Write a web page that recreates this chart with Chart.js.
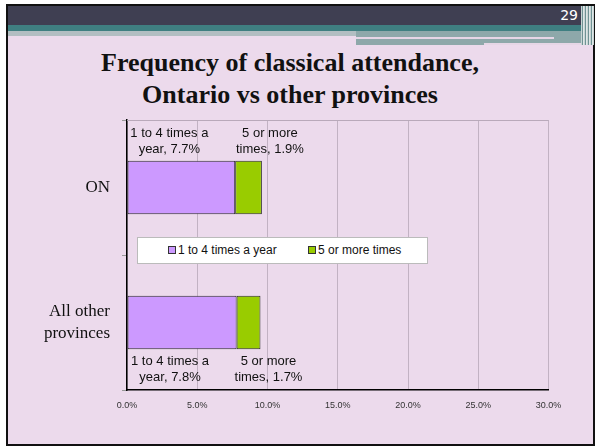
<!DOCTYPE html>
<html>
<head>
<meta charset="utf-8">
<script src="https://cdn.jsdelivr.net/npm/chart.js@4.4.0/dist/chart.umd.min.js"></script>
<style>
  body { margin: 0; background: #fff; width: 596px; height: 447px; overflow: hidden; }
  .abs { position: absolute; }
  #slide { left: 6px; top: 4px; width: 589px; height: 442px; box-sizing: border-box; border: 2px solid #111; background: #ecdaec; }
  #hdr { left: 8px; top: 6px; width: 586px; height: 19px; background: #3f3f52; }
  #teal { left: 8px; top: 25px; width: 586px; height: 6px; background: #3f7f81; }
  #bandL { left: 8px; top: 31px; width: 348px; height: 5px; background: #b2bec2; }
  #bandR { left: 356px; top: 31px; width: 226px; height: 14px; background: #8ea8aa; }
  #line1 { left: 356px; top: 37px; width: 198px; height: 2px; background: #e6d6e6; }
  #line2 { left: 484px; top: 43px; width: 103px; height: 2px; background: #e6d6e6; }
  #tex { left: 581px; top: 6px; width: 13px; height: 39px;
         background: repeating-linear-gradient(90deg, #c8d4d4 0 1px, #6f9294 1px 2px, #dfe6e6 2px 3px); }
  #pnum { left: 540px; top: 7px; width: 38px; text-align: right; color: #fff;
          font: 14px "DejaVu Sans", sans-serif; }
  #title { left: 20px; top: 47px; width: 540px; text-align: center; color: #111;
           font: bold 26px "Liberation Serif", serif; line-height: 32px; }
  #legend { left: 137px; top: 237px; width: 291px; height: 27px; box-sizing: border-box;
            background: #fff; border: 1px solid #bbb; }
  .item { position: absolute; top: 5px; font: 12px "Liberation Sans", Arial, sans-serif; color: #111; white-space: nowrap; }
  .sw { display: inline-block; width: 6px; height: 6px; border: 1px solid #333; margin-right: 2px; vertical-align: 0px; }
  canvas { position: absolute; left: 0; top: 0; }
</style>
</head>
<body>
<div id="slide" class="abs"></div>
<div id="hdr" class="abs"></div>
<div id="teal" class="abs"></div>
<div id="bandL" class="abs"></div>
<div id="bandR" class="abs"></div>
<div id="line1" class="abs"></div>
<div id="line2" class="abs"></div>
<div id="tex" class="abs"></div>
<div id="pnum" class="abs">29</div>
<div id="title" class="abs">Frequency of classical attendance,<br>Ontario vs other provinces</div>
<canvas id="chart" width="596" height="447"></canvas>
<div id="legend" class="abs"></div>
<script>
// data
const categories = ['ON', ['All other', 'provinces']];
const seriesNames = ['1 to 4 times a year', '5 or more times'];
const oneToFour = [7.7, 7.8];
const fiveOrMore = [1.9, 1.7];
const seriesColors = ['#cc99ff', '#99cc00'];
const xTicks = [0, 5, 10, 15, 20, 25, 30];

// labels like "1 to 4 times a / year, 7.7%" drawn above the first bar, below the second
const barLabels = {
  id: 'barLabels',
  afterDatasetsDraw(chart) {
    const ctx = chart.ctx;
    ctx.save();
    ctx.font = '13px "Liberation Sans", Arial, sans-serif';
    ctx.fillStyle = '#111';
    ctx.textAlign = 'center';
    ctx.textBaseline = 'middle';
    chart.data.datasets.forEach((ds, di) => {
      const words = ds.label.split(' ');
      chart.getDatasetMeta(di).data.forEach((bar, i) => {
        const p = bar.getProps(['x', 'y', 'base', 'height'], true);
        const lines = [words.slice(0, -1).join(' '), words[words.length - 1] + ', ' + ds.data[i].toFixed(1) + '%'];
        const cx = di === 0 ? (p.base + p.x) / 2 - 12 : p.x + 8;
        let y0 = i === 0 ? p.y - p.height / 2 - 27 : p.y + p.height / 2 + 12;
        lines.forEach((t, k) => ctx.fillText(t, cx, y0 + k * 16));
      });
    });
    ctx.restore();
  }
};

// grey top edge of the plot area
const plotFrame = {
  id: 'plotFrame',
  beforeDatasetsDraw(chart) {
    const a = chart.chartArea, ctx = chart.ctx;
    ctx.save();
    ctx.strokeStyle = '#b9a9ba';
    ctx.lineWidth = 1;
    ctx.beginPath();
    ctx.moveTo(a.left, a.top + 0.5);
    ctx.lineTo(a.right, a.top + 0.5);
    ctx.stroke();
    ctx.restore();
  }
};

const chart = new Chart(document.getElementById('chart'), {
  type: 'bar',
  data: {
    labels: categories,
    datasets: [
      { label: seriesNames[0], data: oneToFour, backgroundColor: seriesColors[0] },
      { label: seriesNames[1], data: fiveOrMore, backgroundColor: seriesColors[1] }
    ]
  },
  options: {
    indexAxis: 'y',
    responsive: false,
    animation: false,
    layout: { padding: { left: 8, right: 47.5, top: 120, bottom: 17 } },
    datasets: {
      bar: { borderWidth: 1, borderColor: '#2a2a2a', borderSkipped: false, categoryPercentage: 1, barPercentage: 0.395 }
    },
    plugins: { legend: { display: false }, tooltip: { enabled: false } },
    scales: {
      x: {
        stacked: true, min: 0, max: 30,
        afterBuildTicks: s => { s.ticks = xTicks.map(v => ({ value: v })); },
        ticks: { callback: v => v.toFixed(1) + '%', maxRotation: 0, padding: 10, color: '#333',
                 font: { family: '"Liberation Sans", Arial, sans-serif', size: 9 } },
        grid: { color: '#c2b2c3', drawTicks: false },
        border: { color: '#000', width: 1.5 },
        afterFit: s => { s.height = 40; }
      },
      y: {
        stacked: true,
        grid: { drawOnChartArea: false, tickLength: 5, color: '#999', offset: true },
        border: { color: '#000', width: 1.5 },
        ticks: { padding: 12, color: '#111', crossAlign: 'near',
                 font: { family: '"Liberation Serif", serif', size: 17, lineHeight: 1.24 } },
        afterFit: s => { s.width = 119; }
      }
    }
  },
  plugins: [plotFrame, barLabels]
});

// legend box built from the datasets
const leg = document.getElementById('legend');
const itemLeft = [30, 170];
chart.data.datasets.forEach((ds, i) => {
  const el = document.createElement('div');
  el.className = 'item';
  el.style.left = itemLeft[i] + 'px';
  el.innerHTML = '<span class="sw" style="background:' + ds.backgroundColor + '"></span>' + ds.label;
  leg.appendChild(el);
});
</script>
</body>
</html>
